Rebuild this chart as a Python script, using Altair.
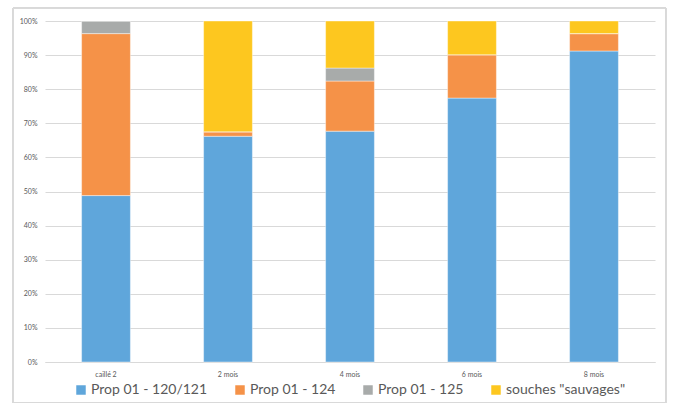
import altair as alt
import pandas as pd

# Share of each strain group per sampling stage (fraction of 1)
stages = ["caillé 2", "2 mois", "4 mois", "6 mois", "8 mois"]
series = ["Prop 01 - 120/121", "Prop 01 - 124", "Prop 01 - 125", 'souches "sauvages"']
prop_120_121 = [0.488, 0.662, 0.677, 0.774, 0.912]
prop_124 = [0.475, 0.013, 0.147, 0.127, 0.051]
prop_125 = [0.037, 0.000, 0.038, 0.000, 0.000]
sauvages = [0.000, 0.325, 0.138, 0.099, 0.037]
colors = ["#5FA6DB", "#F59248", "#A8ABAA", "#FDC71F"]

rows = []
for vals, name in zip([prop_120_121, prop_124, prop_125, sauvages], series):
    for stage, v in zip(stages, vals):
        rows.append({"stade": stage, "souche": name, "part": v, "ordre": series.index(name)})
df = pd.DataFrame(rows)

FONT = "Lato"
TXT = "#595959"

bars = alt.Chart(df).mark_bar(stroke="white", strokeWidth=0.6, strokeOpacity=0.7).encode(
    x=alt.X("stade:N", sort=stages, title=None,
            scale=alt.Scale(paddingInner=0.6, paddingOuter=0.3),
            axis=alt.Axis(labelAngle=0, labelFontSize=7, labelColor=TXT, labelFont=FONT,
                          ticks=False, domainColor="#d9d9d9", labelPadding=8)),
    y=alt.Y("part:Q", stack="zero", title=None,
            scale=alt.Scale(domain=[0, 1], nice=False),
            axis=alt.Axis(format=".0%", values=[i / 10 for i in range(11)],
                          labelFontSize=7, labelColor=TXT, labelFont=FONT,
                          ticks=False, domain=False, gridColor="#d9d9d9",
                          labelPadding=8)),
    color=alt.Color("souche:N", sort=series, title=None,
                    scale=alt.Scale(domain=series, range=colors),
                    legend=alt.Legend(orient="none", direction="horizontal",
                                      legendX=29, legendY=362,
                                      symbolType="square", symbolSize=90,
                                      symbolStrokeWidth=0, labelFontSize=14,
                                      labelFont=FONT, labelColor=TXT,
                                      columnPadding=25, labelOffset=3)),
    order=alt.Order("ordre:Q"),
)

# Light frame around the whole chart
frame = alt.Chart(df).mark_rect(fill=None, stroke="#d9d9d9", strokeWidth=1).encode(
    x=alt.value(-32), x2=alt.value(621), y=alt.value(-13), y2=alt.value(382)
)

chart = alt.layer(frame, bars).properties(
    width=610, height=341,
    autosize=alt.AutoSizeParams(type="none"),
    padding={"left": 45, "top": 21, "right": 18, "bottom": 41},
    background="white",
).configure_view(stroke=None)

chart.save("out.html", embed_options={"renderer": "svg", "actions": False})
